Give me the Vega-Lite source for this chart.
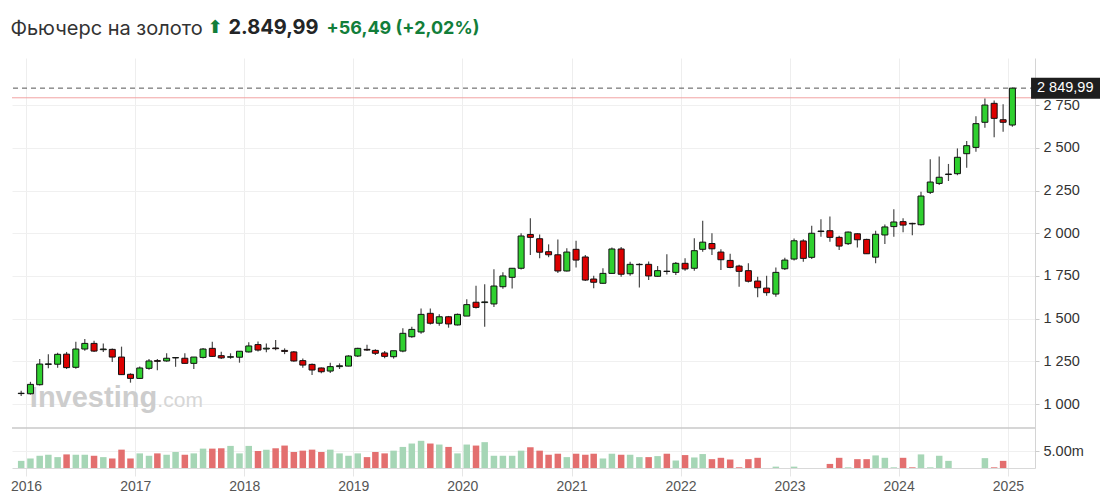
{
  "$schema": "https://vega.github.io/schema/vega-lite/v6.json",
  "width": 1023,
  "height": 410,
  "autosize": {"type": "none"},
  "padding": {"left": 12, "top": 58, "right": 74, "bottom": 36},
  "background": "white",
  "config": {
    "view": {"stroke": null},
    "font": "Liberation Sans",
    "axis": {"labelFont": "Liberation Sans"}
  },
  "title": {
    "text": "Фьючерс на золото",
    "anchor": "start",
    "font": "Inter",
    "fontSize": 20,
    "fontWeight": "normal",
    "color": "#333333",
    "offset": 0,
    "dy": 22
  },
  "datasets": {
    "gold": [
      {"date": "2015-12-16", "o": 1061, "h": 1078, "l": 1047, "c": 1063, "v": 2.1},
      {"date": "2016-01-16", "o": 1060, "h": 1130, "l": 1055, "c": 1115, "v": 2.8},
      {"date": "2016-02-16", "o": 1113, "h": 1264, "l": 1108, "c": 1234, "v": 3.6},
      {"date": "2016-03-16", "o": 1232, "h": 1291, "l": 1209, "c": 1235, "v": 3.9},
      {"date": "2016-04-16", "o": 1233, "h": 1300, "l": 1212, "c": 1291, "v": 3.2},
      {"date": "2016-05-16", "o": 1292, "h": 1305, "l": 1205, "c": 1213, "v": 4.0},
      {"date": "2016-06-16", "o": 1215, "h": 1365, "l": 1207, "c": 1322, "v": 3.9},
      {"date": "2016-07-16", "o": 1322, "h": 1380, "l": 1312, "c": 1355, "v": 3.9},
      {"date": "2016-08-16", "o": 1355, "h": 1371, "l": 1305, "c": 1310, "v": 3.6},
      {"date": "2016-09-16", "o": 1318, "h": 1355, "l": 1305, "c": 1322, "v": 3.2},
      {"date": "2016-10-16", "o": 1320, "h": 1325, "l": 1246, "c": 1275, "v": 2.8},
      {"date": "2016-11-16", "o": 1275, "h": 1336, "l": 1170, "c": 1172, "v": 5.4},
      {"date": "2016-12-16", "o": 1174, "h": 1180, "l": 1125, "c": 1150, "v": 2.8},
      {"date": "2017-01-16", "o": 1150, "h": 1220, "l": 1146, "c": 1211, "v": 4.3},
      {"date": "2017-02-16", "o": 1209, "h": 1264, "l": 1200, "c": 1252, "v": 3.6},
      {"date": "2017-03-16", "o": 1254, "h": 1264, "l": 1198, "c": 1250, "v": 4.3},
      {"date": "2017-04-16", "o": 1252, "h": 1297, "l": 1248, "c": 1268, "v": 3.9},
      {"date": "2017-05-16", "o": 1270, "h": 1274, "l": 1218, "c": 1272, "v": 4.7},
      {"date": "2017-06-16", "o": 1268, "h": 1297, "l": 1237, "c": 1238, "v": 3.9},
      {"date": "2017-07-16", "o": 1238, "h": 1275, "l": 1205, "c": 1275, "v": 4.3},
      {"date": "2017-08-16", "o": 1273, "h": 1328, "l": 1266, "c": 1322, "v": 5.7},
      {"date": "2017-09-16", "o": 1326, "h": 1365, "l": 1275, "c": 1279, "v": 5.7},
      {"date": "2017-10-16", "o": 1283, "h": 1306, "l": 1264, "c": 1270, "v": 5.8},
      {"date": "2017-11-16", "o": 1274, "h": 1297, "l": 1265, "c": 1277, "v": 6.5},
      {"date": "2017-12-16", "o": 1274, "h": 1309, "l": 1242, "c": 1309, "v": 4.3},
      {"date": "2018-01-16", "o": 1305, "h": 1361, "l": 1302, "c": 1340, "v": 6.5},
      {"date": "2018-02-16", "o": 1348, "h": 1366, "l": 1307, "c": 1316, "v": 5.0},
      {"date": "2018-03-16", "o": 1322, "h": 1355, "l": 1303, "c": 1327, "v": 5.4},
      {"date": "2018-04-16", "o": 1328, "h": 1375, "l": 1315, "c": 1324, "v": 5.8},
      {"date": "2018-05-16", "o": 1314, "h": 1326, "l": 1292, "c": 1308, "v": 6.6},
      {"date": "2018-06-16", "o": 1305, "h": 1310, "l": 1247, "c": 1252, "v": 4.7},
      {"date": "2018-07-16", "o": 1254, "h": 1266, "l": 1213, "c": 1228, "v": 5.1},
      {"date": "2018-08-16", "o": 1232, "h": 1237, "l": 1170, "c": 1199, "v": 5.4},
      {"date": "2018-09-16", "o": 1211, "h": 1214, "l": 1180, "c": 1189, "v": 4.7},
      {"date": "2018-10-16", "o": 1193, "h": 1242, "l": 1182, "c": 1219, "v": 5.4},
      {"date": "2018-11-16", "o": 1219, "h": 1238, "l": 1205, "c": 1224, "v": 4.3},
      {"date": "2018-12-16", "o": 1222, "h": 1286, "l": 1221, "c": 1281, "v": 3.6},
      {"date": "2019-01-16", "o": 1281, "h": 1330, "l": 1276, "c": 1326, "v": 4.3},
      {"date": "2019-02-16", "o": 1320, "h": 1347, "l": 1310, "c": 1316, "v": 3.2},
      {"date": "2019-03-16", "o": 1314, "h": 1320, "l": 1287, "c": 1297, "v": 4.7},
      {"date": "2019-04-16", "o": 1299, "h": 1310, "l": 1268, "c": 1279, "v": 4.3},
      {"date": "2019-05-16", "o": 1277, "h": 1311, "l": 1266, "c": 1312, "v": 5.1},
      {"date": "2019-06-16", "o": 1310, "h": 1443, "l": 1303, "c": 1414, "v": 6.2},
      {"date": "2019-07-16", "o": 1394, "h": 1453, "l": 1388, "c": 1437, "v": 7.2},
      {"date": "2019-08-16", "o": 1422, "h": 1560, "l": 1412, "c": 1525, "v": 8.0},
      {"date": "2019-09-16", "o": 1531, "h": 1560, "l": 1465, "c": 1473, "v": 7.2},
      {"date": "2019-10-16", "o": 1473, "h": 1525, "l": 1458, "c": 1511, "v": 6.9},
      {"date": "2019-11-16", "o": 1511, "h": 1516, "l": 1447, "c": 1469, "v": 6.2},
      {"date": "2019-12-16", "o": 1463, "h": 1530, "l": 1460, "c": 1525, "v": 4.3},
      {"date": "2020-01-16", "o": 1515, "h": 1613, "l": 1515, "c": 1582, "v": 6.9},
      {"date": "2020-02-16", "o": 1596, "h": 1693, "l": 1560, "c": 1566, "v": 6.6},
      {"date": "2020-03-16", "o": 1594, "h": 1701, "l": 1453, "c": 1598, "v": 7.6},
      {"date": "2020-04-16", "o": 1586, "h": 1789, "l": 1568, "c": 1691, "v": 3.6},
      {"date": "2020-05-16", "o": 1687, "h": 1771, "l": 1675, "c": 1750, "v": 3.6},
      {"date": "2020-06-16", "o": 1742, "h": 1795, "l": 1677, "c": 1795, "v": 3.6},
      {"date": "2020-07-16", "o": 1795, "h": 2000, "l": 1788, "c": 1984, "v": 5.1},
      {"date": "2020-08-16", "o": 1993, "h": 2088, "l": 1873, "c": 1976, "v": 6.1},
      {"date": "2020-09-16", "o": 1968, "h": 1993, "l": 1854, "c": 1889, "v": 5.1},
      {"date": "2020-10-16", "o": 1892, "h": 1935, "l": 1860, "c": 1874, "v": 3.9},
      {"date": "2020-11-16", "o": 1874, "h": 1964, "l": 1767, "c": 1779, "v": 4.2},
      {"date": "2020-12-16", "o": 1779, "h": 1912, "l": 1776, "c": 1890, "v": 3.2},
      {"date": "2021-01-16", "o": 1906, "h": 1956, "l": 1800, "c": 1843, "v": 4.2},
      {"date": "2021-02-16", "o": 1861, "h": 1873, "l": 1720, "c": 1726, "v": 3.9},
      {"date": "2021-03-16", "o": 1732, "h": 1751, "l": 1678, "c": 1713, "v": 4.2},
      {"date": "2021-04-16", "o": 1707, "h": 1795, "l": 1705, "c": 1765, "v": 2.8},
      {"date": "2021-05-16", "o": 1765, "h": 1916, "l": 1765, "c": 1908, "v": 4.2},
      {"date": "2021-06-16", "o": 1908, "h": 1919, "l": 1746, "c": 1760, "v": 3.9},
      {"date": "2021-07-16", "o": 1763, "h": 1833, "l": 1751, "c": 1818, "v": 3.9},
      {"date": "2021-08-16", "o": 1816, "h": 1824, "l": 1682, "c": 1818, "v": 3.2},
      {"date": "2021-09-16", "o": 1818, "h": 1835, "l": 1726, "c": 1750, "v": 3.2},
      {"date": "2021-10-16", "o": 1748, "h": 1808, "l": 1746, "c": 1781, "v": 3.5},
      {"date": "2021-11-16", "o": 1778, "h": 1877, "l": 1759, "c": 1776, "v": 4.2},
      {"date": "2021-12-16", "o": 1771, "h": 1831, "l": 1756, "c": 1824, "v": 2.2},
      {"date": "2022-01-16", "o": 1824, "h": 1854, "l": 1781, "c": 1791, "v": 3.8},
      {"date": "2022-02-16", "o": 1795, "h": 1971, "l": 1781, "c": 1898, "v": 3.1},
      {"date": "2022-03-16", "o": 1906, "h": 2074, "l": 1892, "c": 1948, "v": 4.1},
      {"date": "2022-04-16", "o": 1940, "h": 2000, "l": 1873, "c": 1909, "v": 2.6},
      {"date": "2022-05-16", "o": 1890, "h": 1906, "l": 1785, "c": 1845, "v": 3.0},
      {"date": "2022-06-16", "o": 1841, "h": 1880, "l": 1795, "c": 1800, "v": 2.5},
      {"date": "2022-07-16", "o": 1808, "h": 1815, "l": 1687, "c": 1777, "v": 0.2},
      {"date": "2022-08-16", "o": 1781, "h": 1824, "l": 1711, "c": 1719, "v": 2.6},
      {"date": "2022-09-16", "o": 1720, "h": 1746, "l": 1625, "c": 1681, "v": 3.0},
      {"date": "2022-10-16", "o": 1679, "h": 1751, "l": 1634, "c": 1652, "v": 0},
      {"date": "2022-11-16", "o": 1644, "h": 1800, "l": 1628, "c": 1771, "v": 0.4},
      {"date": "2022-12-16", "o": 1792, "h": 1857, "l": 1785, "c": 1843, "v": 0},
      {"date": "2023-01-16", "o": 1849, "h": 1970, "l": 1840, "c": 1956, "v": 0.4},
      {"date": "2023-02-16", "o": 1955, "h": 1965, "l": 1833, "c": 1853, "v": 0},
      {"date": "2023-03-16", "o": 1859, "h": 2044, "l": 1850, "c": 2000, "v": 0},
      {"date": "2023-04-16", "o": 2010, "h": 2082, "l": 1980, "c": 2013, "v": 0},
      {"date": "2023-05-16", "o": 2015, "h": 2098, "l": 1951, "c": 1976, "v": 1.2},
      {"date": "2023-06-16", "o": 1976, "h": 1985, "l": 1902, "c": 1925, "v": 3.0},
      {"date": "2023-07-16", "o": 1939, "h": 2010, "l": 1931, "c": 2007, "v": 0.2},
      {"date": "2023-08-16", "o": 1997, "h": 2000, "l": 1916, "c": 1962, "v": 2.6},
      {"date": "2023-09-16", "o": 1964, "h": 1968, "l": 1878, "c": 1880, "v": 2.6},
      {"date": "2023-10-16", "o": 1860, "h": 2015, "l": 1824, "c": 1994, "v": 3.7},
      {"date": "2023-11-16", "o": 1990, "h": 2052, "l": 1937, "c": 2037, "v": 3.0},
      {"date": "2023-12-16", "o": 2039, "h": 2140, "l": 1980, "c": 2066, "v": 0.2},
      {"date": "2024-01-16", "o": 2068, "h": 2088, "l": 2006, "c": 2048, "v": 3.0},
      {"date": "2024-02-16", "o": 2058, "h": 2062, "l": 1988, "c": 2055, "v": 0.2},
      {"date": "2024-03-16", "o": 2050, "h": 2243, "l": 2046, "c": 2218, "v": 4.0},
      {"date": "2024-04-16", "o": 2240, "h": 2433, "l": 2230, "c": 2300, "v": 0.2},
      {"date": "2024-05-16", "o": 2292, "h": 2449, "l": 2283, "c": 2328, "v": 3.6},
      {"date": "2024-06-16", "o": 2344, "h": 2406, "l": 2306, "c": 2347, "v": 2.1},
      {"date": "2024-07-16", "o": 2349, "h": 2497, "l": 2340, "c": 2445, "v": 0},
      {"date": "2024-08-16", "o": 2466, "h": 2540, "l": 2384, "c": 2513, "v": 0},
      {"date": "2024-09-16", "o": 2503, "h": 2685, "l": 2478, "c": 2642, "v": 0},
      {"date": "2024-10-16", "o": 2650, "h": 2790, "l": 2618, "c": 2751, "v": 2.9},
      {"date": "2024-11-16", "o": 2761, "h": 2777, "l": 2562, "c": 2673, "v": 0.2},
      {"date": "2024-12-16", "o": 2665, "h": 2755, "l": 2595, "c": 2650, "v": 2.1},
      {"date": "2025-01-16", "o": 2634, "h": 2852, "l": 2624, "c": 2849.99, "v": 0}
    ],
    "last": [{"price": 2849.99, "prev": 2793.5, "label": "2 849,99"}],
    "brand": [{"name": "Investing", "tld": ".com"}]
  },
  "layer": [
    {
      "layer": [
        {
          "data": {"name": "brand"},
          "mark": {"type": "text", "font": "Liberation Sans", "fontSize": 29, "fontWeight": "bold", "color": "#cdcdcd", "align": "left", "baseline": "alphabetic"},
          "encoding": {
            "x": {
              "datum": {"year": 2016, "month": 1, "date": 14}, "type": "temporal",
              "scale": {"domain": [{"year": 2015, "month": 12, "date": 2}, {"year": 2025, "month": 3, "date": 16}]},
              "axis": {
                "values": [{"year": 2016}, {"year": 2017}, {"year": 2018}, {"year": 2019}, {"year": 2020}, {"year": 2021}, {"year": 2022}, {"year": 2023}, {"year": 2024}, {"year": 2025}],
                "format": "%Y",
                "labelFontSize": 14,
                "labelColor": "#555555",
                "labelPadding": 3,
                "labelFlush": false,
                "labelOverlap": false,
                "labelBound": false,
                "tickSize": 8,
                "tickColor": "#e6e6e6",
                "domain": true,
                "domainColor": "#d9d9d9",
                "grid": true,
                "gridColor": "#eeeeee",
                "title": "⬆",
                "titleX": 195,
                "titleY": -436,
                "titleAlign": "left",
                "titleAnchor": "start",
                "titleBaseline": "alphabetic",
                "titleFont": "DejaVu Sans",
                "titleFontSize": 18,
                "titleFontWeight": "bold",
                "titleColor": "#127e3a"
              }
            },
            "y": {
              "datum": 984, "type": "quantitative",
              "scale": {"domain": [625.2, 3026.5], "zero": false, "nice": false},
              "axis": {
                "orient": "right",
                "values": [1000, 1250, 1500, 1750, 2000, 2250, 2500, 2750],
                "labelExpr": "replace(format(datum.value, ','), ',', ' ')",
                "labelFontSize": 14.5,
                "labelColor": "#333333",
                "labelPadding": 4,
                "tickSize": 4,
                "tickColor": "#cccccc",
                "domain": true,
                "domainColor": "#d4d4d4",
                "grid": true,
                "gridColor": "#f0f0f0",
                "title": "2.849,99",
                "titleX": -807,
                "titleY": -25,
                "titleAngle": 0,
                "titleAlign": "left",
                "titleAnchor": "start",
                "titleBaseline": "alphabetic",
                "titleFont": "Inter",
                "titleFontSize": 20,
                "titleFontWeight": "bold",
                "titleColor": "#232526"
              }
            },
            "text": {"field": "name"}
          }
        },
        {
          "data": {"name": "brand"},
          "mark": {"type": "text", "font": "Liberation Sans", "fontSize": 21, "fontWeight": "normal", "color": "#d6d6d6", "align": "left", "baseline": "alphabetic"},
          "encoding": {
            "x": {"datum": {"year": 2017, "month": 3, "date": 16}, "type": "temporal"},
            "y": {"datum": 984, "type": "quantitative"},
            "text": {"field": "tld"}
          }
        },
        {
          "data": {"name": "last"},
          "mark": {"type": "rule", "color": "#f2a3a3", "strokeWidth": 1},
          "encoding": {"y": {"field": "prev", "type": "quantitative"}}
        },
        {
          "data": {"name": "last"},
          "mark": {"type": "rule", "color": "#555555", "strokeWidth": 1, "strokeDash": [5, 4]},
          "encoding": {"y": {"field": "price", "type": "quantitative"}}
        },
        {
          "data": {"name": "gold"},
          "mark": {"type": "rule", "color": "#4a4a4a", "strokeWidth": 1.2},
          "encoding": {
            "x": {"field": "date", "type": "temporal"},
            "y": {"field": "l", "type": "quantitative"},
            "y2": {"field": "h"}
          }
        },
        {
          "data": {"name": "gold"},
          "mark": {"type": "bar", "size": 6, "stroke": "#111111", "strokeWidth": 1},
          "encoding": {
            "x": {"field": "date", "type": "temporal"},
            "y": {"field": "o", "type": "quantitative"},
            "y2": {"field": "c"},
            "color": {"condition": {"test": "datum.c >= datum.o", "value": "#2fd02f"}, "value": "#dd0000"}
          }
        },
        {
          "data": {"name": "last"},
          "mark": {"type": "point", "shape": "M0.03,-0.3H2V0.3H0.03Z", "size": 4900, "filled": true, "color": "#1e1e1e", "opacity": 1, "strokeWidth": 0},
          "encoding": {
            "x": {"datum": {"year": 2025, "month": 3, "date": 16}, "type": "temporal"},
            "y": {"field": "price", "type": "quantitative"}
          }
        },
        {
          "data": {"name": "last"},
          "mark": {"type": "text", "align": "left", "baseline": "middle", "dx": 7, "fontSize": 14.5, "font": "Liberation Sans", "color": "#ffffff"},
          "encoding": {
            "x": {"datum": {"year": 2025, "month": 3, "date": 16}, "type": "temporal"},
            "y": {"field": "price", "type": "quantitative"},
            "text": {"field": "label"}
          }
        }
      ]
    },
    {
      "layer": [
        {
          "data": {"name": "gold"},
          "mark": {"type": "bar", "size": 6.5},
          "encoding": {
            "x": {"field": "date", "type": "temporal"},
            "y": {
              "field": "v", "type": "quantitative",
              "scale": {"domain": [0, 120.6], "nice": false, "zero": true},
              "axis": {
                "orient": "right",
                "values": [5],
                "labelExpr": "'5.00m'",
                "labelFontSize": 14.5,
                "labelColor": "#333333",
                "labelPadding": 4,
                "tickSize": 4,
                "tickColor": "#cccccc",
                "domain": false,
                "grid": true,
                "gridColor": "#f0f0f0",
                "title": "+56,49 (+2,02%)",
                "titleX": -709,
                "titleY": -25,
                "titleAngle": 0,
                "titleAlign": "left",
                "titleAnchor": "start",
                "titleBaseline": "alphabetic",
                "titleFont": "Inter",
                "titleFontSize": 18,
                "titleFontWeight": "bold",
                "titleColor": "#127e3a"
              }
            },
            "color": {"condition": {"test": "datum.c >= datum.o", "value": "#a6d6b6"}, "value": "#e36f6f"}
          }
        },
        {
          "data": {"name": "last"},
          "mark": {"type": "rule", "color": "#c8c8c8", "strokeWidth": 1.5},
          "encoding": {"y": {"datum": 11.76, "type": "quantitative"}}
        }
      ]
    }
  ],
  "resolve": {"scale": {"y": "independent"}}
}
